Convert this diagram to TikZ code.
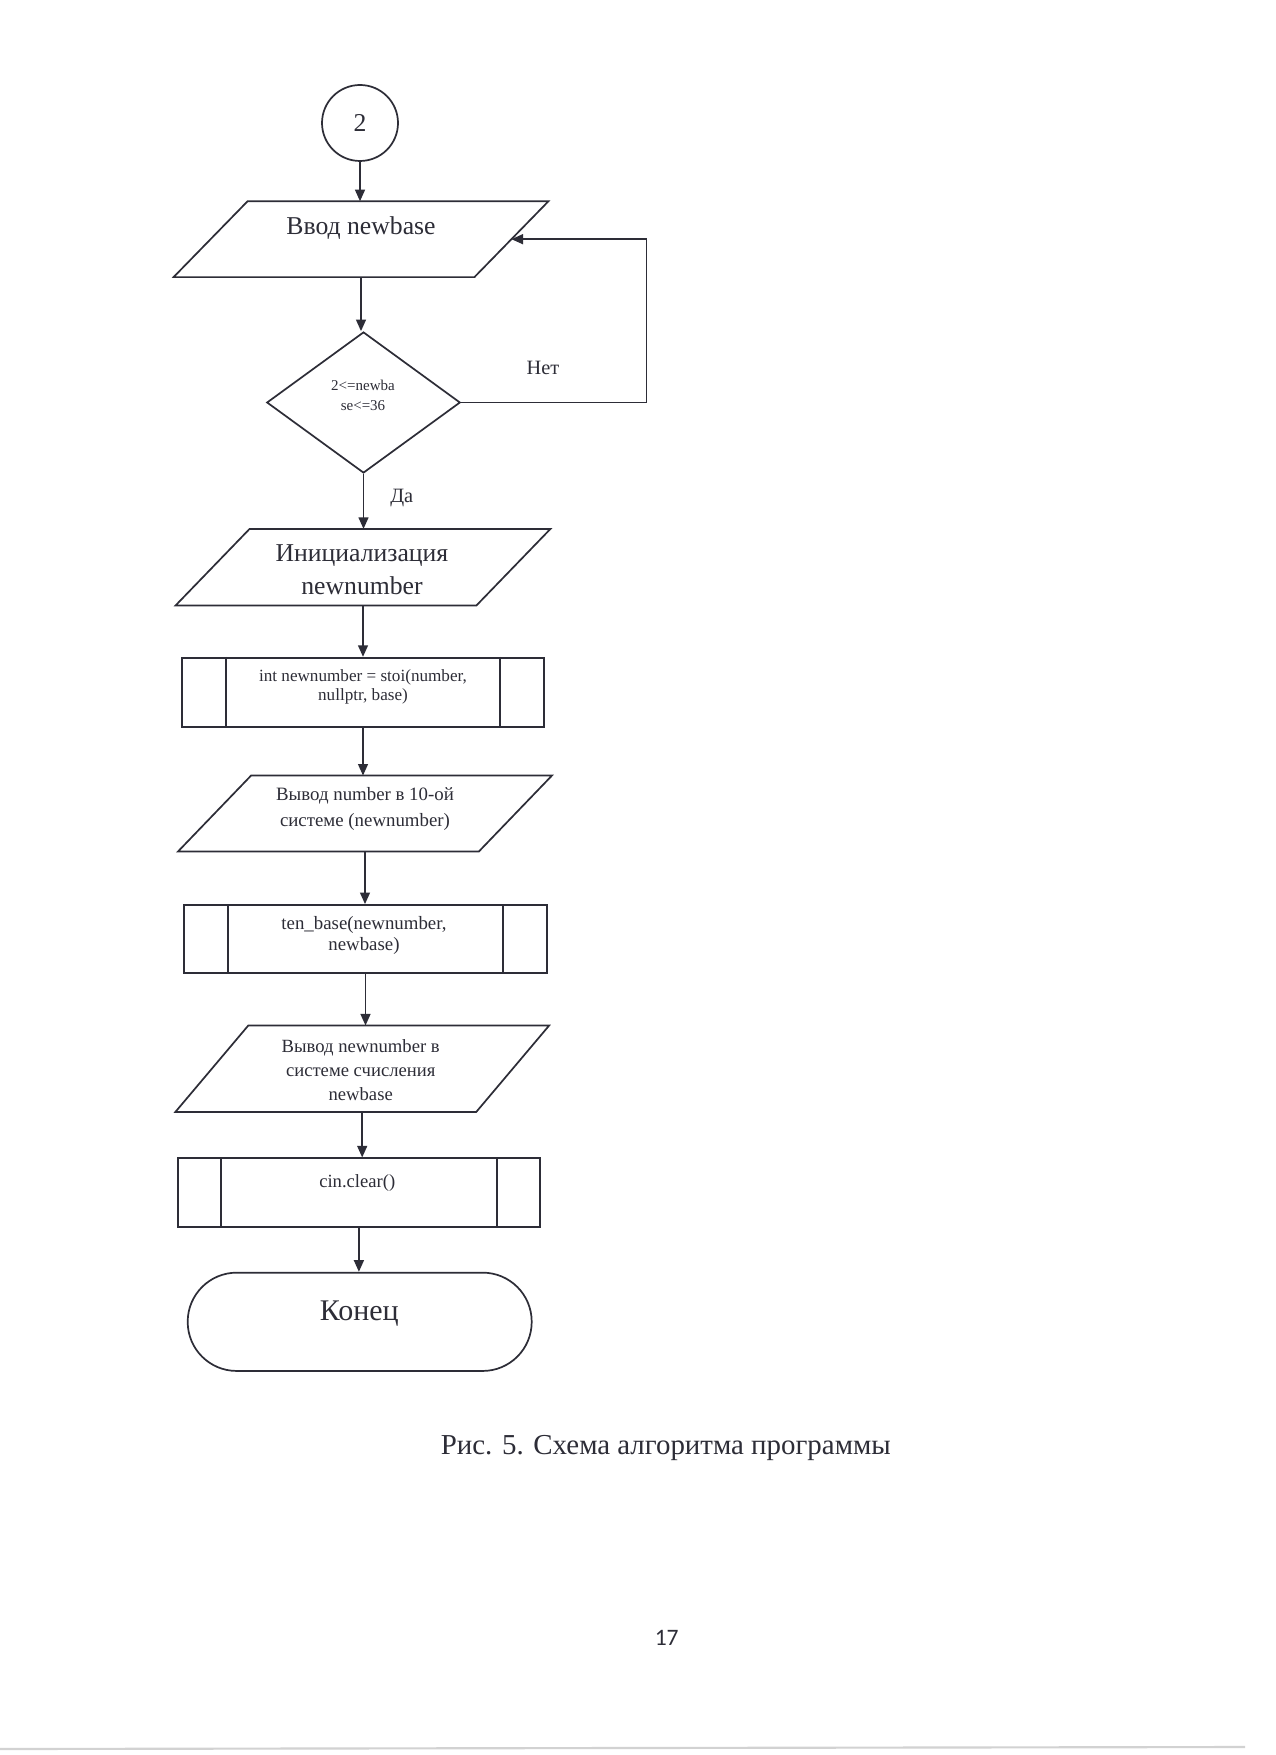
\documentclass[tikz,border=0pt]{standalone}
\usepackage{fontspec}
\setmainfont{Liberation Serif}
\newfontfamily\pagefont{Carlito}
\usetikzlibrary{shapes.geometric,arrows.meta}
\newcommand\pxu{0.4669pt}
\definecolor{ink}{RGB}{45,45,55}
\begin{document}
\begin{tikzpicture}[x=0.4669pt, y=-0.4669pt,
  line/.style={draw=ink, line width=0.8pt},
  arr/.style={line, -{Triangle[length=5.4pt,width=4.6pt]}},
  txt/.style={text=ink, inner sep=0pt, align=center},
  iobox/.style={rectangle, inner sep=0pt, minimum width=300*\pxu},
  subr/.style={rectangle, line, inner sep=0pt},
  circ/.style={circle, line, inner sep=0pt, minimum size=76*\pxu, text=ink, font=\fontsize{12}{14}\selectfont},
  dec/.style={diamond, line, inner sep=0pt, minimum width=193.4*\pxu, minimum height=141*\pxu},
  term/.style={rectangle, line, inner sep=0pt, rounded corners=49*\pxu}
]
\fill[white] (0,0) rectangle (1275,1755);
\useasboundingbox (0,0) rectangle (1275,1755);

% shapes
\node[circ] (c2) at (360,123) {2};
\node[iobox, minimum height=75*\pxu] (p1) at (361,239.2) {};
\node[dec] (d1) at (363.5,402.5) {};
\node[iobox, minimum height=75.7*\pxu] (p2) at (363,567.2) {};
\node[subr, minimum width=362.6*\pxu, minimum height=69*\pxu] (r1) at (363,692.2) {};
\node[iobox, minimum height=75*\pxu] (p3) at (365,813.5) {};
\node[subr, minimum width=362.4*\pxu, minimum height=67.7*\pxu] (r2) at (365.5,938.8) {};
\node[iobox, minimum height=85.7*\pxu] (p4) at (362.2,1068.8) {};
\node[subr, minimum width=362.3*\pxu, minimum height=69*\pxu] (r3) at (358.9,1192.8) {};
\node[term, minimum width=344*\pxu, minimum height=98.3*\pxu] (fin) at (359.7,1321.8) {};

% parallelograms
\foreach \n/\s in {p1/37,p2/37,p3/36.5,p4/36.5}{
  \draw[line] ([xshift=\s*\pxu]\n.north west) -- ([xshift=\s*\pxu]\n.north east)
    -- ([xshift=-\s*\pxu]\n.south east) -- ([xshift=-\s*\pxu]\n.south west) -- cycle;
}
% subroutine side bars
\foreach \n/\s in {r1/45,r2/44.7,r3/44}{
  \draw[line] ([xshift=\s*\pxu]\n.north west) -- ([xshift=\s*\pxu]\n.south west);
  \draw[line] ([xshift=-\s*\pxu]\n.north east) -- ([xshift=-\s*\pxu]\n.south east);
}

% texts
\node[txt, font=\fontsize{12}{14}\selectfont] (t1) at (361,228) {Ввод newbase};
\node[txt, font=\fontsize{7}{9.3}\selectfont] (t2) at (363,395) {2<=newba\\se<=36};
\node[txt, font=\fontsize{9.5}{11}\selectfont] (no) at (543,368) {Нет};
\node[txt, font=\fontsize{9.5}{11}\selectfont] (yes) at (401.7,498) {Да};
\node[txt, font=\fontsize{12}{15.3}\selectfont] (t3) at (362,569.6) {Инициализация\\newnumber};
\node[txt, font=\fontsize{8}{8.7}\selectfont] (t4) at (363,686.7) {int newnumber = stoi(number,\\nullptr, base)};
\node[txt, font=\fontsize{8.8}{12}\selectfont] (t5) at (365,808.9) {Вывод number в 10-ой\\системе (newnumber)};
\node[txt, font=\fontsize{8.8}{9.8}\selectfont] (t6) at (364,935.5) {ten\_base(newnumber,\\newbase)};
\node[txt, font=\fontsize{8.7}{11.4}\selectfont] (t7) at (360.7,1070.2) {Вывод newnumber в\\системе счисления\\newbase};
\node[txt, font=\fontsize{8.7}{10}\selectfont] (t8) at (357.3,1183.3) {cin.clear()};
\node[txt, font=\fontsize{14}{16}\selectfont] (t9) at (359.3,1313.3) {Конец};

\node[txt, anchor=base, font=\fontsize{13.5}{16}\selectfont] (cap) at (665.8,1454) {Рис. 5. Схема алгоритма программы};
\node[txt, anchor=base, font=\pagefont\fontsize{11}{13}\selectfont] (pg) at (666.7,1645) {17};

% connectors
\draw[arr] (c2.south) -- (c2.south |- p1.north);
\draw[arr] (p1.south) -- (p1.south |- d1.north);
\draw[arr] (d1.south) -- (d1.south |- p2.north);
\draw[arr] (d1.east) -- ++(185.5,0) |- (p1.east);
\draw[arr] (p2.south) -- (p2.south |- r1.north);
\draw[arr] (r1.south) -- (r1.south |- p3.north);
\draw[arr] (p3.south) -- (p3.south |- r2.north);
\draw[arr] (r2.south) -- (r2.south |- p4.north);
\draw[arr] (p4.south) -- (p4.south |- r3.north);
\draw[arr] (r3.south) -- (r3.south |- fin.north);

% scan edge
\draw[gray!35, line width=1pt] (0,1749) -- (1245,1747);
\end{tikzpicture}
\end{document}
